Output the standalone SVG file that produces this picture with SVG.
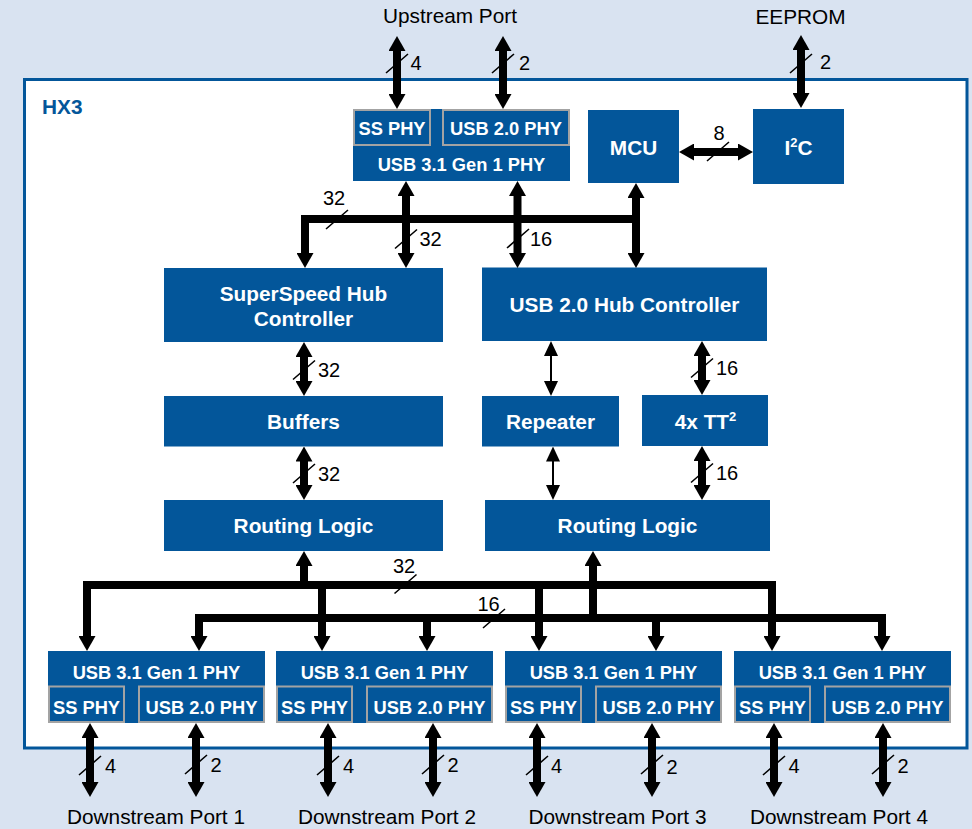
<svg xmlns="http://www.w3.org/2000/svg" width="972" height="829" viewBox="0 0 972 829">
  <style>
    .blk{fill:#03569A}
    .sub{fill:#03569A;stroke:#A3A3A3;stroke-width:2}
    .lbl{font-family:"Liberation Sans",Arial,sans-serif;font-weight:bold;fill:#FFFFFF;text-anchor:middle;font-size:20.8px}
    .phy{font-size:18.3px}
    .ext{font-family:"Liberation Sans",Arial,sans-serif;font-size:20.8px;fill:#000000;text-anchor:middle}
    .num{font-family:"Liberation Sans",Arial,sans-serif;font-size:20px;fill:#000000}
    .mid{text-anchor:middle}
    .bus{fill:none;stroke:#000000;stroke-width:8;stroke-linejoin:miter;stroke-linecap:butt}
    .thin{fill:none;stroke:#000000;stroke-width:2}
    .tick{stroke:#000000;stroke-width:1.6;fill:none}
  </style>
  <defs>
    <marker id="ah" markerUnits="userSpaceOnUse" markerWidth="15" markerHeight="17" viewBox="0 0 15 17" refX="1" refY="8.5" orient="auto-start-reverse">
      <path d="M0,0 L15,8.5 L0,17 Z" fill="#000000"/>
    </marker>
    <marker id="ahs" markerUnits="userSpaceOnUse" markerWidth="15" markerHeight="14" viewBox="0 0 15 14" refX="1" refY="7" orient="auto-start-reverse">
      <path d="M0,0 L15,7 L0,14 Z" fill="#000000"/>
    </marker>
  </defs>

  <!-- page background -->
  <rect x="0" y="0" width="972" height="829" fill="#D9E3F1"/>

  <!-- chip outline -->
  <g id="hx3">
    <rect x="24.5" y="79.5" width="942.5" height="668.5" fill="#FFFFFF" stroke="#03569A" stroke-width="3"/>
    <text x="42" y="114" font-family="Liberation Sans, Arial, sans-serif" font-weight="bold" font-size="20.8" fill="#03569A">HX3</text>
  </g>

  <!-- external labels -->
  <g id="ext-labels">
    <text class="ext" x="450" y="22.5">Upstream Port</text>
    <text class="ext" x="800.5" y="24">EEPROM</text>
    <text class="ext" x="156" y="824">Downstream Port 1</text>
    <text class="ext" x="387" y="824">Downstream Port 2</text>
    <text class="ext" x="617.5" y="824">Downstream Port 3</text>
    <text class="ext" x="839" y="824">Downstream Port 4</text>
  </g>

  <!-- upstream PHY -->
  <g id="up-phy">
    <rect class="blk" x="353" y="109" width="217" height="72"/>
    <rect class="sub" x="354" y="110" width="76" height="35"/>
    <rect class="sub" x="443" y="110" width="126" height="35"/>
    <text class="lbl phy" x="392" y="134.5">SS PHY</text>
    <text class="lbl phy" x="506" y="134.5">USB 2.0 PHY</text>
    <text class="lbl phy" x="461.5" y="170.5">USB 3.1 Gen 1 PHY</text>
  </g>

  <g id="mcu">
    <rect class="blk" x="588" y="110" width="91" height="73"/>
    <text class="lbl" x="633.5" y="154.5">MCU</text>
  </g>

  <g id="i2c">
    <rect class="blk" x="753" y="109" width="91" height="75"/>
    <text class="lbl" x="798.5" y="154.5">I<tspan font-size="13" dy="-8">2</tspan><tspan dy="8">C</tspan></text>
  </g>

  <g id="ss-hub">
    <rect class="blk" x="164" y="268" width="279" height="74"/>
    <text class="lbl" x="303.5" y="301">SuperSpeed Hub</text>
    <text class="lbl" x="303.5" y="326">Controller</text>
  </g>

  <g id="usb2-hub">
    <rect class="blk" x="482" y="267.5" width="285" height="73.5"/>
    <text class="lbl" x="624.5" y="311.5">USB 2.0 Hub Controller</text>
  </g>

  <g id="buffers">
    <rect class="blk" x="164" y="396" width="279" height="50.5"/>
    <text class="lbl" x="303.5" y="429">Buffers</text>
  </g>

  <g id="repeater">
    <rect class="blk" x="482" y="396" width="137" height="50.5"/>
    <text class="lbl" x="550.5" y="429">Repeater</text>
  </g>

  <g id="tt">
    <rect class="blk" x="642" y="395" width="126" height="51"/>
    <text class="lbl" x="705.5" y="429">4x TT<tspan font-size="13" dy="-8">2</tspan></text>
  </g>

  <g id="ss-routing">
    <rect class="blk" x="164" y="500" width="279" height="51"/>
    <text class="lbl" x="303.5" y="533">Routing Logic</text>
  </g>

  <g id="usb2-routing">
    <rect class="blk" x="485" y="500" width="285" height="51"/>
    <text class="lbl" x="627.5" y="533">Routing Logic</text>
  </g>

  <!-- downstream PHYs -->
  <g id="dn-phy-1">
    <rect class="blk" x="48" y="651" width="217" height="72"/>
    <rect class="sub" x="49" y="686.5" width="75" height="35.5"/>
    <rect class="sub" x="139" y="686.5" width="125" height="35.5"/>
    <text class="lbl phy" x="156.5" y="679">USB 3.1 Gen 1 PHY</text>
    <text class="lbl phy" x="86.5" y="714">SS PHY</text>
    <text class="lbl phy" x="201.5" y="714">USB 2.0 PHY</text>
  </g>
  <g id="dn-phy-2">
    <rect class="blk" x="276" y="651" width="217" height="72"/>
    <rect class="sub" x="277" y="686.5" width="75" height="35.5"/>
    <rect class="sub" x="367" y="686.5" width="125" height="35.5"/>
    <text class="lbl phy" x="384.5" y="679">USB 3.1 Gen 1 PHY</text>
    <text class="lbl phy" x="314.5" y="714">SS PHY</text>
    <text class="lbl phy" x="429.5" y="714">USB 2.0 PHY</text>
  </g>
  <g id="dn-phy-3">
    <rect class="blk" x="505" y="651" width="217" height="72"/>
    <rect class="sub" x="506" y="686.5" width="75" height="35.5"/>
    <rect class="sub" x="596" y="686.5" width="125" height="35.5"/>
    <text class="lbl phy" x="613.5" y="679">USB 3.1 Gen 1 PHY</text>
    <text class="lbl phy" x="543.5" y="714">SS PHY</text>
    <text class="lbl phy" x="658.5" y="714">USB 2.0 PHY</text>
  </g>
  <g id="dn-phy-4">
    <rect class="blk" x="734" y="651" width="217" height="72"/>
    <rect class="sub" x="735" y="686.5" width="75" height="35.5"/>
    <rect class="sub" x="825" y="686.5" width="125" height="35.5"/>
    <text class="lbl phy" x="842.5" y="679">USB 3.1 Gen 1 PHY</text>
    <text class="lbl phy" x="772.5" y="714">SS PHY</text>
    <text class="lbl phy" x="887.5" y="714">USB 2.0 PHY</text>
  </g>

  <!-- connectors -->
  <g id="connectors">
    <!-- external links -->
    <line class="bus" x1="397" y1="50" x2="397" y2="95" marker-start="url(#ah)" marker-end="url(#ah)"/>
    <line class="bus" x1="503" y1="50" x2="503" y2="95" marker-start="url(#ah)" marker-end="url(#ah)"/>
    <line class="bus" x1="801" y1="49" x2="801" y2="94" marker-start="url(#ah)" marker-end="url(#ah)"/>
    <line class="bus" x1="693" y1="152" x2="739" y2="152" marker-start="url(#ah)" marker-end="url(#ah)"/>

    <!-- upper bus -->
    <path class="bus" d="M305,254 V219 H640" marker-start="url(#ah)"/>
    <line class="bus" x1="406" y1="195" x2="406" y2="254" marker-start="url(#ah)" marker-end="url(#ah)"/>
    <line class="bus" x1="517.5" y1="195" x2="517.5" y2="254" marker-start="url(#ah)" marker-end="url(#ah)"/>
    <line class="bus" x1="636" y1="197" x2="636" y2="254" marker-start="url(#ah)" marker-end="url(#ah)"/>

    <!-- SuperSpeed path -->
    <line class="bus" x1="304" y1="356" x2="304" y2="382" marker-start="url(#ah)" marker-end="url(#ah)"/>
    <line class="bus" x1="304" y1="460.5" x2="304" y2="486" marker-start="url(#ah)" marker-end="url(#ah)"/>

    <!-- USB 2.0 path -->
    <line class="thin" x1="551" y1="355" x2="551" y2="382" marker-start="url(#ahs)" marker-end="url(#ahs)"/>
    <line class="thin" x1="553" y1="460.5" x2="553" y2="486" marker-start="url(#ahs)" marker-end="url(#ahs)"/>
    <line class="bus" x1="702" y1="355" x2="702" y2="381" marker-start="url(#ah)" marker-end="url(#ah)"/>
    <line class="bus" x1="702" y1="460" x2="702" y2="486" marker-start="url(#ah)" marker-end="url(#ah)"/>

    <!-- lower buses -->
    <line class="bus" x1="304" y1="589" x2="304" y2="565" marker-end="url(#ah)"/>
    <path class="bus" d="M87,637 V585 H772 V637" marker-start="url(#ah)" marker-end="url(#ah)"/>
    <line class="bus" x1="322" y1="585" x2="322" y2="637" marker-end="url(#ah)"/>
    <line class="bus" x1="539" y1="585" x2="539" y2="637" marker-end="url(#ah)"/>
    <path class="bus" d="M199,637 V618 H882 V637" marker-start="url(#ah)" marker-end="url(#ah)"/>
    <line class="bus" x1="427" y1="618" x2="427" y2="637" marker-end="url(#ah)"/>
    <line class="bus" x1="656" y1="618" x2="656" y2="637" marker-end="url(#ah)"/>
    <line class="bus" x1="593" y1="622" x2="593" y2="565" marker-end="url(#ah)"/>

    <!-- downstream links -->
    <line class="bus" x1="90" y1="737" x2="90" y2="783" marker-start="url(#ah)" marker-end="url(#ah)"/>
    <line class="bus" x1="196" y1="737" x2="196" y2="783" marker-start="url(#ah)" marker-end="url(#ah)"/>
    <line class="bus" x1="328" y1="737" x2="328" y2="783" marker-start="url(#ah)" marker-end="url(#ah)"/>
    <line class="bus" x1="433" y1="737" x2="433" y2="783" marker-start="url(#ah)" marker-end="url(#ah)"/>
    <line class="bus" x1="537" y1="737" x2="537" y2="783" marker-start="url(#ah)" marker-end="url(#ah)"/>
    <line class="bus" x1="652" y1="737" x2="652" y2="783" marker-start="url(#ah)" marker-end="url(#ah)"/>
    <line class="bus" x1="774" y1="737" x2="774" y2="783" marker-start="url(#ah)" marker-end="url(#ah)"/>
    <line class="bus" x1="883" y1="737" x2="883" y2="783" marker-start="url(#ah)" marker-end="url(#ah)"/>

    <!-- bus-width ticks -->
    <path class="tick" d="M386,73 l22,-19 M492,73 l22,-19 M790,73 l22,-19 M707,161 l22,-19
      M326,229 l22,-19 M395,248.5 l22,-19 M507,248 l22,-19
      M293,379.5 l22,-19 M293,483 l22,-19 M691,377.5 l22,-19 M691,482.5 l22,-19
      M394.5,593.5 l22,-19 M483,628 l22,-19
      M79,775 l22,-19 M185,774 l22,-19 M317,775 l22,-19 M422,774 l22,-19
      M526,775 l22,-19 M641,774 l22,-19 M763,775 l22,-19 M872,774 l22,-19"/>

    <!-- bus-width labels -->
    <text class="num" x="410.5" y="70">4</text>
    <text class="num" x="519" y="69.5">2</text>
    <text class="num" x="820" y="68.5">2</text>
    <text class="num mid" x="719" y="140">8</text>
    <text class="num" x="323" y="205">32</text>
    <text class="num" x="419.5" y="246">32</text>
    <text class="num" x="530" y="246">16</text>
    <text class="num" x="318" y="377">32</text>
    <text class="num" x="318" y="481">32</text>
    <text class="num" x="716" y="375">16</text>
    <text class="num" x="716" y="480">16</text>
    <text class="num" x="393" y="573">32</text>
    <text class="num" x="477.5" y="611">16</text>
    <text class="num" x="105" y="773">4</text>
    <text class="num" x="210.5" y="772">2</text>
    <text class="num" x="343" y="773">4</text>
    <text class="num" x="447.5" y="772">2</text>
    <text class="num" x="551" y="773">4</text>
    <text class="num" x="666.5" y="773.5">2</text>
    <text class="num" x="788.5" y="773">4</text>
    <text class="num" x="897.5" y="772.5">2</text>
  </g>
</svg>
